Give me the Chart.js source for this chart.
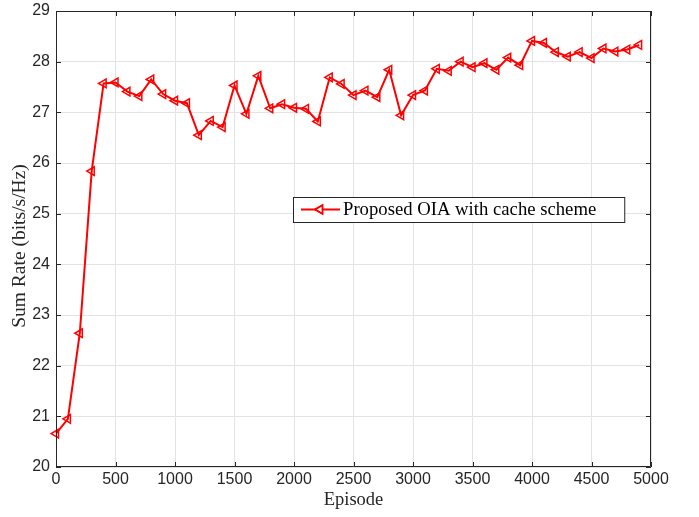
<!DOCTYPE html>
<html>
<head>
<meta charset="utf-8">
<script src="https://cdn.jsdelivr.net/npm/chart.js@4"></script>
<style>
  html, body { margin: 0; padding: 0; background: #fff; }
  #wrap { width: 699px; height: 517px; }
</style>
</head>
<body>
<div id="wrap"><canvas id="rateChart" width="699" height="517"></canvas></div>
<script>
const episodes = [0, 100, 200, 300, 400, 500, 600, 700, 800, 900,
  1000, 1100, 1200, 1300, 1400, 1500, 1600, 1700, 1800, 1900,
  2000, 2100, 2200, 2300, 2400, 2500, 2600, 2700, 2800, 2900,
  3000, 3100, 3200, 3300, 3400, 3500, 3600, 3700, 3800, 3900,
  4000, 4100, 4200, 4300, 4400, 4500, 4600, 4700, 4800, 4900];
const sumRate = [20.66, 20.95, 22.64, 25.84, 27.57, 27.59, 27.41, 27.32, 27.65, 27.36,
  27.23, 27.18, 26.55, 26.83, 26.71, 27.53, 26.97, 27.72, 27.08, 27.16,
  27.09, 27.07, 26.82, 27.69, 27.56, 27.34, 27.43, 27.30, 27.84, 26.94,
  27.34, 27.43, 27.86, 27.82, 28.00, 27.89, 27.97, 27.84, 28.08, 27.93,
  28.41, 28.37, 28.19, 28.10, 28.19, 28.07, 28.26, 28.20, 28.24, 28.33];
const seriesLabel = 'Proposed OIA with cache scheme';
const xTitle = 'Episode';
const yTitle = 'Sum Rate (bits/s/Hz)';

const axisColor = '#262626';
const serif = '"Liberation Serif", "Times New Roman", serif';
const sans = '"Liberation Sans", Arial, sans-serif';

// MATLAB-style box, inward ticks, y label and legend inside the axes
const boxPlugin = {
  id: 'matlabBox',
  afterDatasetsDraw(chart) {
    const { ctx, chartArea: a, scales } = chart;
    ctx.save();
    ctx.strokeStyle = axisColor;
    ctx.lineWidth = 1;
    ctx.beginPath();
    ctx.rect(a.left + 0.5, a.top + 0.5, a.right - a.left - 1, a.bottom - a.top - 1);
    ctx.stroke();

    const len = 5;
    ctx.beginPath();
    scales.x.ticks.forEach((t) => {
      const px = Math.round(scales.x.getPixelForValue(t.value)) + 0.5;
      ctx.moveTo(px, a.bottom); ctx.lineTo(px, a.bottom - len);
      ctx.moveTo(px, a.top); ctx.lineTo(px, a.top + len);
    });
    scales.y.ticks.forEach((t) => {
      const py = Math.round(scales.y.getPixelForValue(t.value)) + 0.5;
      ctx.moveTo(a.left, py); ctx.lineTo(a.left + len, py);
      ctx.moveTo(a.right, py); ctx.lineTo(a.right - len, py);
    });
    ctx.stroke();

    // y axis label
    ctx.save();
    ctx.translate(20, (a.top + a.bottom) / 2 + 7);
    ctx.rotate(-Math.PI / 2);
    ctx.font = '19.5px ' + serif;
    ctx.fillStyle = axisColor;
    ctx.textAlign = 'center';
    ctx.textBaseline = 'middle';
    ctx.fillText(yTitle, 0, 0);
    ctx.restore();

    // legend
    const ds = chart.data.datasets[0];
    ctx.font = '18.7px ' + serif;
    const textW = ctx.measureText(ds.label).width;
    const bx = a.left + 237, by = a.top + 186, bh = 25;
    const textX = bx + 50;
    const bw = textX - bx + textW + 28;
    ctx.fillStyle = '#fff';
    ctx.fillRect(bx, by, bw, bh);
    ctx.strokeStyle = axisColor;
    ctx.strokeRect(bx + 0.5, by + 0.5, bw, bh);
    const ly = by + bh / 2;
    ctx.strokeStyle = ds.borderColor;
    ctx.lineWidth = 2;
    ctx.beginPath();
    ctx.moveTo(bx + 8, ly); ctx.lineTo(bx + 47, ly);
    ctx.stroke();
    ctx.lineWidth = 1.5;
    Chart.helpers.drawPoint(ctx, { pointStyle: 'triangle', rotation: -90, radius: 5, borderWidth: 1.5 }, bx + 27, ly);
    ctx.stroke();
    ctx.fillStyle = '#000';
    ctx.textBaseline = 'middle';
    ctx.fillText(ds.label, textX, ly + 1);
    ctx.restore();
  }
};

const chart = new Chart(document.getElementById('rateChart'), {
  type: 'line',
  data: {
    datasets: [{
      label: seriesLabel,
      data: episodes.map((ep, i) => ({ x: ep, y: sumRate[i] })),
      borderColor: '#ff0000',
      borderWidth: 2,
      backgroundColor: 'transparent',
      pointStyle: 'triangle',
      rotation: -90,
      pointRadius: 5,
      pointBorderWidth: 1.5,
      pointBorderColor: '#ff0000',
      pointBackgroundColor: 'transparent',
      tension: 0,
      clip: false
    }]
  },
  options: {
    responsive: false,
    animation: false,
    layout: { padding: { top: 11, right: 48, bottom: 0, left: 0 } },
    plugins: {
      legend: { display: false },
      tooltip: { enabled: false }
    },
    scales: {
      x: {
        type: 'linear',
        min: 0,
        max: 5000,
        afterFit: (s) => { s.height = 50; s.paddingLeft = 0; s.paddingRight = 0; },
        ticks: {
          stepSize: 500,
          padding: 3,
          maxRotation: 0,
          color: axisColor,
          font: { family: sans, size: 16 },
          callback: (v) => String(v)
        },
        grid: { color: '#e3e3e3', drawTicks: false },
        border: { display: false },
        title: {
          display: true,
          text: xTitle,
          color: '#262626',
          font: { family: serif, size: 18.5 },
          padding: { top: 0, bottom: 6 }
        }
      },
      y: {
        min: 20,
        max: 29,
        afterFit: (s) => { s.width = 56; s.paddingTop = 0; s.paddingBottom = 0; },
        ticks: {
          stepSize: 1,
          padding: 6,
          color: axisColor,
          font: { family: sans, size: 16 }
        },
        grid: { color: '#e3e3e3', drawTicks: false },
        border: { display: false },
        title: { display: false, text: yTitle }
      }
    }
  },
  plugins: [boxPlugin]
});
</script>
</body>
</html>
